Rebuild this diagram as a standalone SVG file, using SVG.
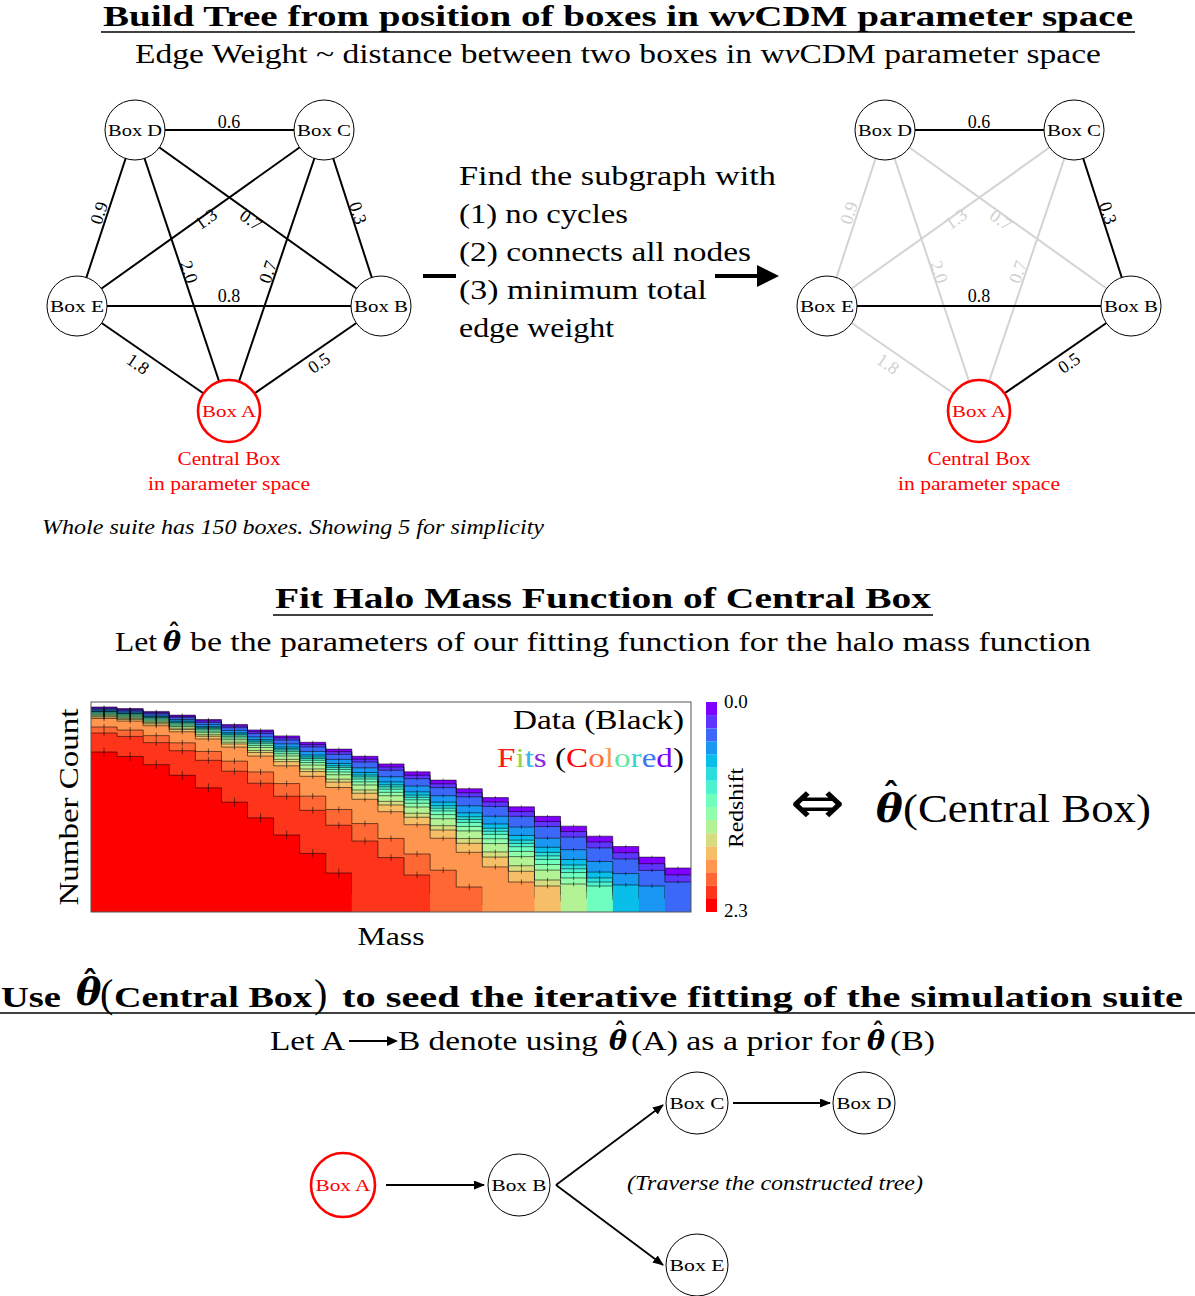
<svg xmlns="http://www.w3.org/2000/svg" xmlns:xlink="http://www.w3.org/1999/xlink" width="1195" height="1296" viewBox="0 0 1195 1296" font-family="'Liberation Serif', serif">
<style>
text { font-family: "Liberation Serif", "DejaVu Serif", serif; fill: #000; }
.hd { font-weight: bold; font-size: 29px; }
.sub { font-size: 28px; }
.nl { font-size: 17.5px; text-anchor: middle; }
.el { font-size: 18px; text-anchor: middle; }
.elg { font-size: 18px; text-anchor: middle; fill: #d0d0d0; }
.red { fill: #ff0000; }
.node { fill: #fff; stroke: #000; stroke-width: 1; }
.nodeA { fill: #fff; stroke: #ff0000; stroke-width: 2.6; }
.e { stroke: #000; stroke-width: 2; fill: none; }
.eg { stroke: #d3d3d3; stroke-width: 2; fill: none; }
.ul { stroke: #000; stroke-width: 1.6; }
.th { font-family: "DejaVu Serif", serif; font-weight: bold; font-style: italic; }
.hat { font-family: "DejaVu Serif", serif; font-weight: bold; font-style: normal; text-anchor: middle; }
.arr { stroke: #000; stroke-width: 1.8; fill: none; marker-end: url(#ah); }
.hl { fill: none; stroke: #000; stroke-opacity: 0.55; stroke-width: 1; }
</style>
<defs>
<marker id="ah" markerUnits="userSpaceOnUse" markerWidth="11" markerHeight="9" refX="10" refY="4.5" orient="auto"><path d="M0,0 L11,4.5 L0,9 z" fill="#000"/></marker>
<path id="hmfFill" d="M91,0 H117.09 V1 H143.17 V2.828 H169.26 V5.196 H195.35 V8 H221.43 V11.18 H247.52 V14.70 H273.61 V18.52 H299.70 V22.63 H325.78 V27 H351.87 V31.62 H377.96 V36.48 H404.04 V41.57 H430.13 V46.87 H456.22 V52.38 H482.30 V58.09 H508.39 V64 H534.48 V70.09 H560.57 V76.37 H586.65 V82.82 H612.74 V89.44 H638.83 V96.23 H664.91 V103.19 H691 V400 H91 Z"/>
<path id="hmfLine" vector-effect="non-scaling-stroke" d="M91,0 H117.09 V1 H143.17 V2.828 H169.26 V5.196 H195.35 V8 H221.43 V11.18 H247.52 V14.70 H273.61 V18.52 H299.70 V22.63 H325.78 V27 H351.87 V31.62 H377.96 V36.48 H404.04 V41.57 H430.13 V46.87 H456.22 V52.38 H482.30 V58.09 H508.39 V64 H534.48 V70.09 H560.57 V76.37 H586.65 V82.82 H612.74 V89.44 H638.83 V96.23 H664.91 V103.19 H691 M104.04,-1 v2 M130.13,0 v2 M156.22,1.83 v2 M182.3,4.2 v2 M208.39,7 v2 M234.48,10.18 v2 M260.57,13.7 v2 M286.65,17.52 v2 M312.74,21.63 v2 M338.83,26 v2 M364.91,30.62 v2 M391,35.48 v2 M417.09,40.57 v2 M443.17,45.87 v2 M469.26,51.38 v2 M495.35,57.09 v2 M521.43,63 v2 M547.52,69.09 v2 M573.61,75.37 v2 M599.7,81.82 v2 M625.78,88.44 v2 M651.87,95.23 v2 M677.96,102.19 v2"/>
<clipPath id="c691"><rect x="91" y="702" width="600" height="210"/></clipPath>
<clipPath id="c665"><rect x="91" y="702" width="573.91" height="210"/></clipPath>
<clipPath id="c639"><rect x="91" y="702" width="547.83" height="210"/></clipPath>
<clipPath id="c613"><rect x="91" y="702" width="521.74" height="210"/></clipPath>
<clipPath id="c587"><rect x="91" y="702" width="495.65" height="210"/></clipPath>
<clipPath id="c561"><rect x="91" y="702" width="469.57" height="210"/></clipPath>
<clipPath id="c534"><rect x="91" y="702" width="443.48" height="210"/></clipPath>
<clipPath id="c482"><rect x="91" y="702" width="391.3" height="210"/></clipPath>
<clipPath id="c430"><rect x="91" y="702" width="339.13" height="210"/></clipPath>
<clipPath id="c352"><rect x="91" y="702" width="260.87" height="210"/></clipPath>
</defs>
<rect width="1195" height="1296" fill="#fff"/>

<!-- ===== Section 1 ===== -->
<g id="title1">
<text class="hd" x="103" y="26" textLength="1030" lengthAdjust="spacingAndGlyphs">Build Tree from position of boxes in w<tspan font-style="italic">ν</tspan>CDM parameter space</text>
<line class="ul" x1="101" y1="32" x2="1135" y2="32"/>
<text class="sub" x="135" y="63" textLength="966" lengthAdjust="spacingAndGlyphs">Edge Weight ~ distance between two boxes in w<tspan font-style="italic">ν</tspan>CDM parameter space</text>
</g>

<g id="left-graph-edges">
<line class="e" x1="135" y1="130" x2="324" y2="130"/>
<line class="e" x1="135" y1="130" x2="77" y2="306"/>
<line class="e" x1="135" y1="130" x2="381" y2="306"/>
<line class="e" x1="135" y1="130" x2="229" y2="411"/>
<line class="e" x1="324" y1="130" x2="77" y2="306"/>
<line class="e" x1="324" y1="130" x2="381" y2="306"/>
<line class="e" x1="324" y1="130" x2="229" y2="411"/>
<line class="e" x1="77" y1="306" x2="381" y2="306"/>
<line class="e" x1="77" y1="306" x2="229" y2="411"/>
<line class="e" x1="381" y1="306" x2="229" y2="411"/>
<text class="el" x="229" y="128">0.6</text>
<text class="el" transform="translate(99,213) rotate(-72)" dy="6">0.9</text>
<text class="el" transform="translate(206,219) rotate(-35.5)" dy="6">1.3</text>
<text class="el" transform="translate(251,220) rotate(35.6)" dy="6">0.7</text>
<text class="el" transform="translate(358,213) rotate(72)" dy="6">0.3</text>
<text class="el" transform="translate(189,272) rotate(71.5)" dy="6">2.0</text>
<text class="el" transform="translate(268,272) rotate(-71.3)" dy="6">0.7</text>
<text class="el" x="229" y="302">0.8</text>
<text class="el" transform="translate(138,364) rotate(34.6)" dy="6">1.8</text>
<text class="el" transform="translate(319,363) rotate(-34.6)" dy="6">0.5</text>
</g>
<g id="L-boxD"><circle class="node" cx="135" cy="130" r="30"/><text class="nl" x="135" y="136" textLength="54" lengthAdjust="spacingAndGlyphs">Box D</text></g>
<g id="L-boxC"><circle class="node" cx="324" cy="130" r="30"/><text class="nl" x="324" y="136" textLength="54" lengthAdjust="spacingAndGlyphs">Box C</text></g>
<g id="L-boxE"><circle class="node" cx="77" cy="306" r="30"/><text class="nl" x="77" y="312" textLength="54" lengthAdjust="spacingAndGlyphs">Box E</text></g>
<g id="L-boxB"><circle class="node" cx="381" cy="306" r="30"/><text class="nl" x="381" y="312" textLength="54" lengthAdjust="spacingAndGlyphs">Box B</text></g>
<g id="L-boxA"><circle class="nodeA" cx="229" cy="411" r="31"/><text class="nl red" x="229" y="417" textLength="54" lengthAdjust="spacingAndGlyphs">Box A</text>
<text class="red" x="229" y="465" font-size="18" text-anchor="middle" textLength="103" lengthAdjust="spacingAndGlyphs">Central Box</text>
<text class="red" x="229" y="490" font-size="18" text-anchor="middle" textLength="162" lengthAdjust="spacingAndGlyphs">in parameter space</text></g>

<text x="42" y="534" font-size="20" font-style="italic" textLength="502" lengthAdjust="spacingAndGlyphs">Whole suite has 150 boxes. Showing 5 for simplicity</text>

<g id="mst-step">
<text x="459" y="185" font-size="28" textLength="317" lengthAdjust="spacingAndGlyphs">Find the subgraph with</text>
<text x="459" y="223" font-size="28" textLength="169" lengthAdjust="spacingAndGlyphs">(1) no cycles</text>
<text x="459" y="261" font-size="28" textLength="292" lengthAdjust="spacingAndGlyphs">(2) connects all nodes</text>
<text x="459" y="299" font-size="28" textLength="248" lengthAdjust="spacingAndGlyphs">(3) minimum total</text>
<text x="459" y="337" font-size="28" textLength="155" lengthAdjust="spacingAndGlyphs">edge weight</text>
<line x1="423" y1="276" x2="456" y2="276" stroke="#000" stroke-width="4"/>
<line x1="715" y1="276" x2="760" y2="276" stroke="#000" stroke-width="4"/>
<path d="M757,265 L779,276 L757,287 z" fill="#000"/>
</g>

<g id="right-graph-edges">
<line class="eg" x1="885" y1="130" x2="827" y2="306"/>
<line class="eg" x1="885" y1="130" x2="1131" y2="306"/>
<line class="eg" x1="885" y1="130" x2="979" y2="411"/>
<line class="eg" x1="1074" y1="130" x2="827" y2="306"/>
<line class="eg" x1="1074" y1="130" x2="979" y2="411"/>
<line class="eg" x1="827" y1="306" x2="979" y2="411"/>
<line class="e" stroke-width="2.4" x1="885" y1="130" x2="1074" y2="130"/>
<line class="e" stroke-width="2.4" x1="1074" y1="130" x2="1131" y2="306"/>
<line class="e" stroke-width="2.4" x1="827" y1="306" x2="1131" y2="306"/>
<line class="e" stroke-width="2.4" x1="1131" y1="306" x2="979" y2="411"/>
<text class="el" x="979" y="128">0.6</text>
<text class="elg" transform="translate(849,213) rotate(-72)" dy="6">0.9</text>
<text class="elg" transform="translate(956,219) rotate(-35.5)" dy="6">1.3</text>
<text class="elg" transform="translate(1001,220) rotate(35.6)" dy="6">0.7</text>
<text class="el" transform="translate(1108,213) rotate(72)" dy="6">0.3</text>
<text class="elg" transform="translate(939,272) rotate(71.5)" dy="6">2.0</text>
<text class="elg" transform="translate(1018,272) rotate(-71.3)" dy="6">0.7</text>
<text class="el" x="979" y="302">0.8</text>
<text class="elg" transform="translate(888,364) rotate(34.6)" dy="6">1.8</text>
<text class="el" transform="translate(1069,363) rotate(-34.6)" dy="6">0.5</text>
</g>
<g id="R-boxD"><circle class="node" cx="885" cy="130" r="30"/><text class="nl" x="885" y="136" textLength="54" lengthAdjust="spacingAndGlyphs">Box D</text></g>
<g id="R-boxC"><circle class="node" cx="1074" cy="130" r="30"/><text class="nl" x="1074" y="136" textLength="54" lengthAdjust="spacingAndGlyphs">Box C</text></g>
<g id="R-boxE"><circle class="node" cx="827" cy="306" r="30"/><text class="nl" x="827" y="312" textLength="54" lengthAdjust="spacingAndGlyphs">Box E</text></g>
<g id="R-boxB"><circle class="node" cx="1131" cy="306" r="30"/><text class="nl" x="1131" y="312" textLength="54" lengthAdjust="spacingAndGlyphs">Box B</text></g>
<g id="R-boxA"><circle class="nodeA" cx="979" cy="411" r="31"/><text class="nl red" x="979" y="417" textLength="54" lengthAdjust="spacingAndGlyphs">Box A</text>
<text class="red" x="979" y="465" font-size="18" text-anchor="middle" textLength="103" lengthAdjust="spacingAndGlyphs">Central Box</text>
<text class="red" x="979" y="490" font-size="18" text-anchor="middle" textLength="162" lengthAdjust="spacingAndGlyphs">in parameter space</text></g>

<!-- ===== Section 2 ===== -->
<g id="title2">
<text class="hd" x="275" y="608" textLength="656" lengthAdjust="spacingAndGlyphs">Fit Halo Mass Function of Central Box</text>
<line class="ul" x1="273" y1="615" x2="933" y2="615"/>
<text class="sub" x="115" y="651" textLength="42" lengthAdjust="spacingAndGlyphs">Let</text>
<text class="th" x="163" y="651" font-size="27">θ<tspan class="hat" x="174" y="641" font-size="24">ˆ</tspan></text>
<text class="sub" x="190" y="651" textLength="901" lengthAdjust="spacingAndGlyphs">be the parameters of our fitting function for the halo mass function</text>
</g>

<g id="hmf-plot">
<rect x="91" y="702" width="600" height="210" fill="#fff"/>
<g id="hmf-fills">
<g clip-path="url(#c691)"><use xlink:href="#hmfFill" transform="translate(0,707) scale(1,1.560)" fill="#8000ff"/></g>
<g clip-path="url(#c691)"><use xlink:href="#hmfFill" transform="translate(0,708) scale(1,1.618)" fill="#5e35fe"/></g>
<g clip-path="url(#c691)"><use xlink:href="#hmfFill" transform="translate(0,709) scale(1,1.677)" fill="#3c68f9"/></g>
<g clip-path="url(#c665)"><use xlink:href="#hmfFill" transform="translate(0,710) scale(1,1.829)" fill="#1a96f3"/></g>
<g clip-path="url(#c639)"><use xlink:href="#hmfFill" transform="translate(0,711) scale(1,1.945)" fill="#09bee9"/></g>
<g clip-path="url(#c613)"><use xlink:href="#hmfFill" transform="translate(0,711.5) scale(1,2.010)" fill="#2bdddd"/></g>
<g clip-path="url(#c613)"><use xlink:href="#hmfFill" transform="translate(0,712) scale(1,2.053)" fill="#4df3ce"/></g>
<g clip-path="url(#c613)"><use xlink:href="#hmfFill" transform="translate(0,713) scale(1,2.089)" fill="#6ffebe"/></g>
<g clip-path="url(#c587)"><use xlink:href="#hmfFill" transform="translate(0,714) scale(1,2.147)" fill="#91feab"/></g>
<g clip-path="url(#c587)"><use xlink:href="#hmfFill" transform="translate(0,715) scale(1,2.213)" fill="#b3f396"/></g>
<g clip-path="url(#c561)"><use xlink:href="#hmfFill" transform="translate(0,716) scale(1,2.340)" fill="#d5dd80"/></g>
<g clip-path="url(#c561)"><use xlink:href="#hmfFill" transform="translate(0,717) scale(1,2.411)" fill="#f7be68"/></g>
<g clip-path="url(#c534)"><use xlink:href="#hmfFill" transform="translate(0,718.5) scale(1,2.555)" fill="#ff964f"/></g>
<g clip-path="url(#c482)"><use xlink:href="#hmfFill" transform="translate(0,727) scale(1,3.055)" fill="#ff6835"/></g>
<g clip-path="url(#c430)"><use xlink:href="#hmfFill" transform="translate(0,733) scale(1,3.416)" fill="#ff351b"/></g>
<g clip-path="url(#c352)"><use xlink:href="#hmfFill" transform="translate(0,752) scale(1,4.481)" fill="#ff0000"/></g>
</g>
<g id="hmf-data" class="hl">
<g clip-path="url(#c691)"><use xlink:href="#hmfLine" transform="translate(0,707) scale(1,1.560)"/></g>
<g clip-path="url(#c691)"><use xlink:href="#hmfLine" transform="translate(0,708) scale(1,1.618)"/></g>
<g clip-path="url(#c691)"><use xlink:href="#hmfLine" transform="translate(0,709) scale(1,1.677)"/></g>
<g clip-path="url(#c665)"><use xlink:href="#hmfLine" transform="translate(0,710) scale(1,1.829)"/></g>
<g clip-path="url(#c639)"><use xlink:href="#hmfLine" transform="translate(0,711) scale(1,1.945)"/></g>
<g clip-path="url(#c613)"><use xlink:href="#hmfLine" transform="translate(0,711.5) scale(1,2.010)"/></g>
<g clip-path="url(#c613)"><use xlink:href="#hmfLine" transform="translate(0,712) scale(1,2.053)"/></g>
<g clip-path="url(#c613)"><use xlink:href="#hmfLine" transform="translate(0,713) scale(1,2.089)"/></g>
<g clip-path="url(#c587)"><use xlink:href="#hmfLine" transform="translate(0,714) scale(1,2.147)"/></g>
<g clip-path="url(#c587)"><use xlink:href="#hmfLine" transform="translate(0,715) scale(1,2.213)"/></g>
<g clip-path="url(#c561)"><use xlink:href="#hmfLine" transform="translate(0,716) scale(1,2.340)"/></g>
<g clip-path="url(#c561)"><use xlink:href="#hmfLine" transform="translate(0,717) scale(1,2.411)"/></g>
<g clip-path="url(#c534)"><use xlink:href="#hmfLine" transform="translate(0,718.5) scale(1,2.555)"/></g>
<g clip-path="url(#c482)"><use xlink:href="#hmfLine" transform="translate(0,727) scale(1,3.055)"/></g>
<g clip-path="url(#c430)"><use xlink:href="#hmfLine" transform="translate(0,733) scale(1,3.416)"/></g>
<g clip-path="url(#c352)"><use xlink:href="#hmfLine" transform="translate(0,752) scale(1,4.481)"/></g>
</g>
<rect x="91" y="702" width="600" height="210" fill="none" stroke="#555" stroke-width="1"/>
<text x="684" y="729" font-size="28" text-anchor="end" textLength="171" lengthAdjust="spacingAndGlyphs">Data (Black)</text>
<text x="684" y="767" font-size="28" text-anchor="end" textLength="187" lengthAdjust="spacingAndGlyphs"><tspan fill="#ff1a1a">F</tspan><tspan fill="#8fd84a">i</tspan><tspan fill="#2fb8e8">t</tspan><tspan fill="#8a2be2">s</tspan> (<tspan fill="#ff0000">C</tspan><tspan fill="#ff6835">o</tspan><tspan fill="#f7a040">l</tspan><tspan fill="#5ee8a0">o</tspan><tspan fill="#30d8d0">r</tspan><tspan fill="#3c78f0">e</tspan><tspan fill="#8000ff">d</tspan>)</text>
<text transform="translate(78,807) rotate(-90)" font-size="28" text-anchor="middle" textLength="197" lengthAdjust="spacingAndGlyphs">Number Count</text>
<text x="391" y="945" font-size="26" text-anchor="middle" textLength="67" lengthAdjust="spacingAndGlyphs">Mass</text>
</g>

<g id="colorbar">
<rect x="706" y="702" width="11" height="13.2" fill="#8000ff"/>
<rect x="706" y="715.1" width="11" height="13.2" fill="#5e35fe"/>
<rect x="706" y="728.3" width="11" height="13.2" fill="#3c68f9"/>
<rect x="706" y="741.4" width="11" height="13.2" fill="#1a96f3"/>
<rect x="706" y="754.5" width="11" height="13.2" fill="#09bee9"/>
<rect x="706" y="767.6" width="11" height="13.2" fill="#2bdddd"/>
<rect x="706" y="780.8" width="11" height="13.2" fill="#4df3ce"/>
<rect x="706" y="793.9" width="11" height="13.2" fill="#6ffebe"/>
<rect x="706" y="807" width="11" height="13.2" fill="#91feab"/>
<rect x="706" y="820.1" width="11" height="13.2" fill="#b3f396"/>
<rect x="706" y="833.3" width="11" height="13.2" fill="#d5dd80"/>
<rect x="706" y="846.4" width="11" height="13.2" fill="#f7be68"/>
<rect x="706" y="859.5" width="11" height="13.2" fill="#ff964f"/>
<rect x="706" y="872.6" width="11" height="13.2" fill="#ff6835"/>
<rect x="706" y="885.8" width="11" height="13.2" fill="#ff351b"/>
<rect x="706" y="898.9" width="11" height="13.1" fill="#ff0000"/>
<text x="724" y="708" font-size="19">0.0</text>
<text x="724" y="917" font-size="19">2.3</text>
<text transform="translate(743,808) rotate(-90)" font-size="20" text-anchor="middle" textLength="80" lengthAdjust="spacingAndGlyphs">Redshift</text>
</g>

<g id="equiv">
<text x="790" y="823" font-size="60" textLength="55" lengthAdjust="spacingAndGlyphs" style="font-family:'DejaVu Sans',sans-serif">⇔</text>
<text class="th" x="876" y="822" font-size="40">θ<tspan class="hat" x="891" y="807" font-size="34">ˆ</tspan></text>
<text x="903" y="822" font-size="40" textLength="248" lengthAdjust="spacingAndGlyphs">(Central Box)</text>
</g>

<!-- ===== Section 3 ===== -->
<g id="title3">
<text class="hd" x="1" y="1007" textLength="60" lengthAdjust="spacingAndGlyphs">Use</text>
<text class="th" x="76" y="1005" font-size="38">θ<tspan class="hat" x="90" y="994" font-size="32">ˆ</tspan></text>
<text x="100" y="1007" font-size="40">(</text>
<text class="hd" x="114" y="1007" textLength="198" lengthAdjust="spacingAndGlyphs">Central Box</text>
<text x="314" y="1007" font-size="40">)</text>
<text class="hd" x="342" y="1007" textLength="841" lengthAdjust="spacingAndGlyphs">to seed the iterative fitting of the simulation suite</text>
<line class="ul" x1="0" y1="1013" x2="1195" y2="1013"/>
<text class="sub" x="270" y="1050" textLength="75" lengthAdjust="spacingAndGlyphs">Let A</text>
<line x1="349" y1="1041" x2="390" y2="1041" stroke="#000" stroke-width="2"/>
<path d="M387,1036 L398,1041 L387,1046 z" fill="#000"/>
<text class="sub" x="398" y="1050" textLength="200" lengthAdjust="spacingAndGlyphs">B denote using</text>
<text class="th" x="609" y="1050" font-size="27">θ<tspan class="hat" x="620" y="1040" font-size="24">ˆ</tspan></text>
<text class="sub" x="631" y="1050" textLength="229" lengthAdjust="spacingAndGlyphs">(A) as a prior for</text>
<text class="th" x="867" y="1050" font-size="27">θ<tspan class="hat" x="878" y="1040" font-size="24">ˆ</tspan></text>
<text class="sub" x="890" y="1050" textLength="45" lengthAdjust="spacingAndGlyphs">(B)</text>
</g>

<g id="tree-edges">
<line class="arr" x1="386" y1="1185" x2="484" y2="1185"/>
<line class="arr" x1="556" y1="1185" x2="663" y2="1105"/>
<line class="arr" x1="556" y1="1185" x2="663" y2="1265"/>
<line class="arr" x1="733" y1="1103" x2="830" y2="1103"/>
</g>
<g id="T-boxA"><circle class="nodeA" cx="343" cy="1185" r="32"/><text class="nl red" x="343" y="1191" textLength="55" lengthAdjust="spacingAndGlyphs">Box A</text></g>
<g id="T-boxB"><circle class="node" cx="519" cy="1185" r="31"/><text class="nl" x="519" y="1191" textLength="55" lengthAdjust="spacingAndGlyphs">Box B</text></g>
<g id="T-boxC"><circle class="node" cx="697" cy="1103" r="31"/><text class="nl" x="697" y="1109" textLength="55" lengthAdjust="spacingAndGlyphs">Box C</text></g>
<g id="T-boxD"><circle class="node" cx="864" cy="1103" r="31"/><text class="nl" x="864" y="1109" textLength="55" lengthAdjust="spacingAndGlyphs">Box D</text></g>
<g id="T-boxE"><circle class="node" cx="697" cy="1265" r="31"/><text class="nl" x="697" y="1271" textLength="55" lengthAdjust="spacingAndGlyphs">Box E</text></g>
<text x="627" y="1190" font-size="20" font-style="italic" textLength="296" lengthAdjust="spacingAndGlyphs">(Traverse the constructed tree)</text>
</svg>
